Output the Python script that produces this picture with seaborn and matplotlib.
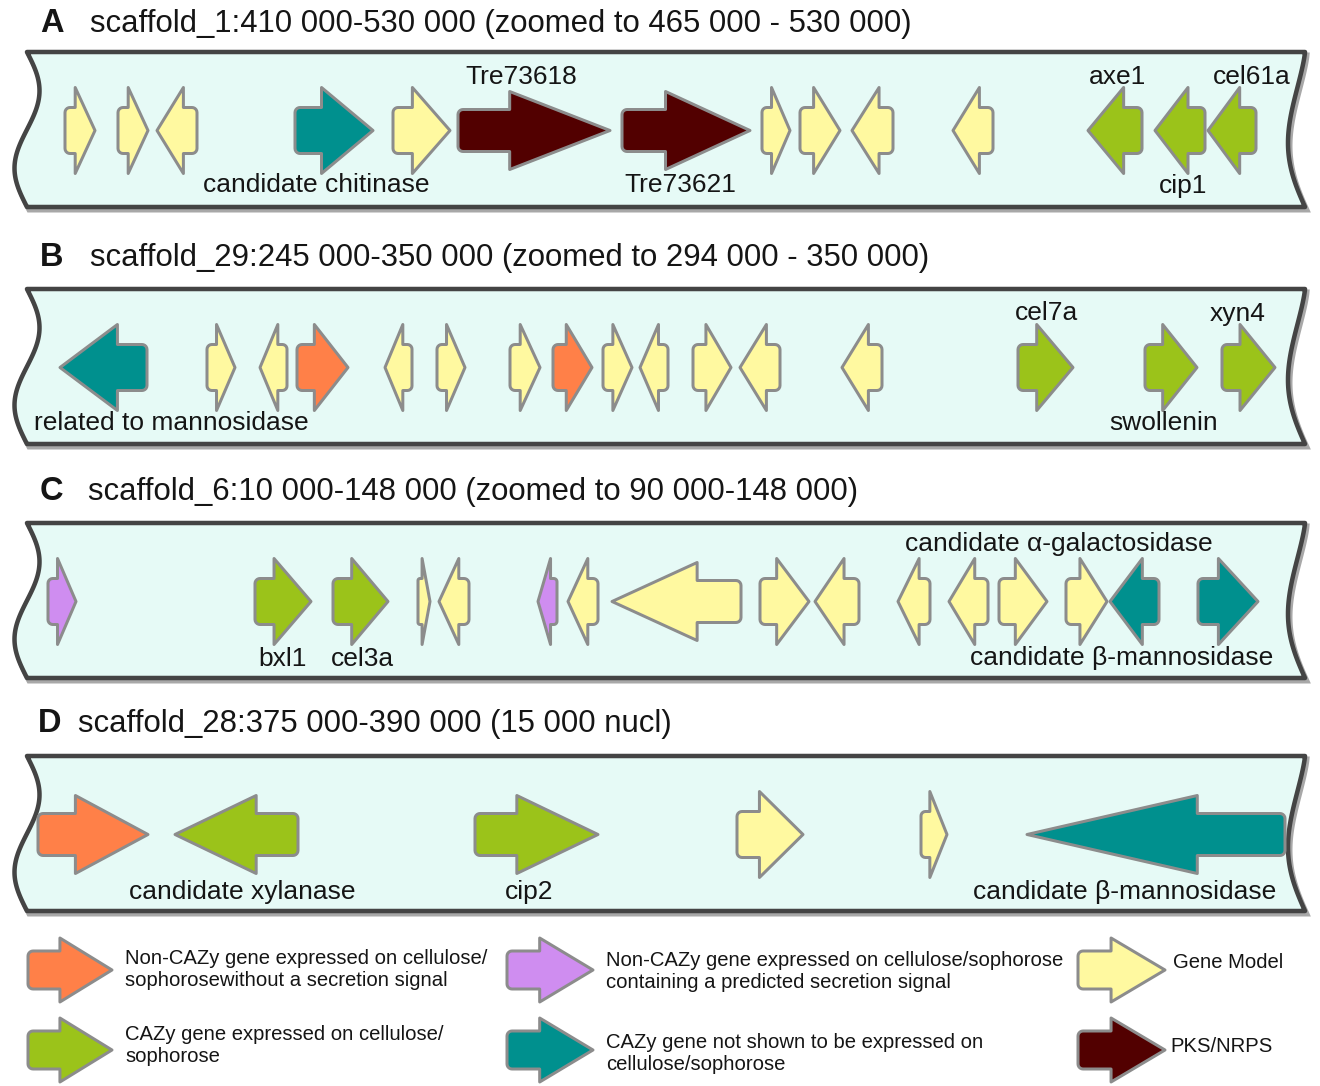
import numpy as np
import matplotlib
matplotlib.use("Agg")
import matplotlib.pyplot as plt
from matplotlib.patches import Polygon
import seaborn as sns

sns.set_theme(style="white")
plt.rcParams["font.family"] = ["Liberation Sans", "DejaVu Sans"]

# ---- gene categories and colours ----
CATEGORY_COLORS = {
    "noncazy_nosig": "#FF8048",
    "noncazy_sig": "#CF8DF0",
    "model": "#FFF9A0",
    "cazy_expr": "#9BC31A",
    "cazy_notexpr": "#00908E",
    "pks": "#520000",
}

# ---- panel A: scaffold_1 ----
a_start = [65, 118, 157, 295, 393, 458, 622, 762, 800, 852, 953, 1088, 1155, 1208]
a_end = [95, 148, 197, 373, 450, 610, 750, 790, 840, 893, 993, 1142, 1205, 1256]
a_strand = [1, 1, -1, 1, 1, 1, 1, 1, 1, -1, -1, -1, -1, -1]
a_cat = ["model", "model", "model", "cazy_notexpr", "model", "pks", "pks",
         "model", "model", "model", "model", "cazy_expr", "cazy_expr", "cazy_expr"]

# ---- panel B: scaffold_29 ----
b_start = [60, 207, 260, 297, 385, 437, 510, 553, 603, 640, 693, 740, 842, 1018, 1145, 1222]
b_end = [147, 235, 287, 348, 412, 465, 540, 592, 632, 668, 731, 780, 882, 1073, 1197, 1275]
b_strand = [-1, 1, -1, 1, -1, 1, 1, 1, 1, -1, 1, -1, -1, 1, 1, 1]
b_cat = ["cazy_notexpr", "model", "model", "noncazy_nosig", "model", "model", "model",
         "noncazy_nosig", "model", "model", "model", "model", "model",
         "cazy_expr", "cazy_expr", "cazy_expr"]

# ---- panel C: scaffold_6 ----
c_start = [48, 255, 333, 418, 439, 538, 568, 612, 760, 815, 898, 949, 999, 1066, 1110, 1198]
c_end = [76, 311, 388, 430, 469, 557, 598, 741, 809, 859, 930, 988, 1047, 1107, 1159, 1258]
c_strand = [1, 1, 1, 1, -1, -1, -1, -1, 1, -1, -1, -1, 1, 1, -1, 1]
c_cat = ["noncazy_sig", "cazy_expr", "cazy_expr", "model", "model", "noncazy_sig", "model",
         "model", "model", "model", "model", "model", "model", "model",
         "cazy_notexpr", "cazy_notexpr"]

# ---- panel D: scaffold_28 ----
d_start = [38, 175, 475, 737, 921, 1027]
d_end = [148, 298, 598, 803, 947, 1285]
d_strand = [1, -1, 1, 1, 1, -1]
d_cat = ["noncazy_nosig", "cazy_expr", "cazy_expr", "model", "model", "cazy_notexpr"]

# ---- panel titles ----
panel_letters = ["A", "B", "C", "D"]
panel_titles = [
    "scaffold_1:410 000-530 000 (zoomed to 465 000 - 530 000)",
    "scaffold_29:245 000-350 000 (zoomed to 294 000 - 350 000)",
    "scaffold_6:10 000-148 000 (zoomed to 90 000-148 000)",
    "scaffold_28:375 000-390 000 (15 000 nucl)",
]

# ---- gene name labels: (text, x centre, side) ----
a_labels = [("candidate chitinase", 316, "below"), ("Tre73618", 521, "above"),
            ("Tre73621", 680, "below"), ("axe1", 1117, "above"),
            ("cip1", 1183, "below"), ("cel61a", 1252, "above")]
b_labels = [("related to mannosidase", 171, "below"), ("cel7a", 1046, "above"),
            ("swollenin", 1164, "below"), ("xyn4", 1238, "above")]
c_labels = [("bxl1", 283, "below"), ("cel3a", 362, "below"),
            ("candidate \u03b1-galactosidase", 1059, "above"),
            ("candidate \u03b2-mannosidase", 1122, "below")]
d_labels = [("candidate xylanase", 242, "below"), ("cip2", 529, "below"),
            ("candidate \u03b2-mannosidase", 1125, "below")]

# ---- legend ----
legend_cats = ["noncazy_nosig", "noncazy_sig", "model", "cazy_expr", "cazy_notexpr", "pks"]
legend_texts = [
    "Non-CAZy gene expressed on cellulose/\nsophorosewithout a secretion signal",
    "Non-CAZy gene expressed on cellulose/sophorose\ncontaining a predicted secretion signal",
    "Gene Model",
    "CAZy gene expressed on cellulose/\nsophorose",
    "CAZy gene not shown to be expressed on\ncellulose/sophorose",
    "PKS/NRPS",
]

# ---------------------------------------------------------------
W, H = 1320, 1086
fig = plt.figure(figsize=(W / 100, H / 100), dpi=100)
ax = fig.add_axes([0, 0, 1, 1])
ax.set_xlim(0, W)
ax.set_ylim(H, 0)
ax.axis("off")

PX = 0.72  # points per pixel at 100 dpi
TEXT = "#151515"


def gene_arrow(ax, start, end, strand, yc, color, head_half=43, body_half=23,
               head_frac=0.66, radius=5, edge="#8C8C8C", lw=3.0, z=3):
    length = end - start
    head = length * head_frac
    r = min(radius, body_half * 0.5, (length - head) * 0.5)
    x0, x1 = 0.0, length
    xn = length - head
    pts = []
    # rounded tail corners
    for a in np.linspace(np.pi, 1.5 * np.pi, 6):
        pts.append((x0 + r + r * np.cos(a), yc - body_half + r + r * np.sin(a)))
    pts += [(xn, yc - body_half), (xn, yc - head_half), (x1, yc),
            (xn, yc + head_half), (xn, yc + body_half)]
    for a in np.linspace(0.5 * np.pi, np.pi, 6):
        pts.append((x0 + r + r * np.cos(a), yc + body_half - r + r * np.sin(a)))
    pts = np.array(pts)
    if strand > 0:
        pts[:, 0] = start + pts[:, 0]
    else:
        pts[:, 0] = end - pts[:, 0]
    ax.add_patch(Polygon(pts, closed=True, facecolor=color, edgecolor=edge,
                         linewidth=lw * PX, joinstyle="round", zorder=z))


def track_band(ax, top, bottom, left=27, right=1305):
    t = np.linspace(0, 1, 80)
    y = top + (bottom - top) * t
    xl = left + 12.5 * np.sin(2 * np.pi * t)
    xr = right - 17 * np.sin(np.pi * t ** 1.3)
    xs = np.concatenate([[xl[0]], xr, xl[::-1]])
    ys = np.concatenate([[top], y, y[::-1]])
    shadow = Polygon(np.column_stack([xs + 2, ys + 3]), closed=True, facecolor="none",
                     edgecolor="#A8A8A8", linewidth=5 * PX, zorder=1)
    band = Polygon(np.column_stack([xs, ys]), closed=True, facecolor="#E6FAF6",
                   edgecolor="#444444", linewidth=4.5 * PX, joinstyle="round", zorder=2)
    ax.add_patch(shadow)
    ax.add_patch(band)


panels = [
    (a_start, a_end, a_strand, a_cat, a_labels),
    (b_start, b_end, b_strand, b_cat, b_labels),
    (c_start, c_end, c_strand, c_cat, c_labels),
    (d_start, d_end, d_strand, d_cat, d_labels),
]
band_tops = [52, 289, 523, 756]
band_height = 155
title_y = [23, 257, 491, 723]
letter_x = [40, 40, 40, 38]
title_x = [90, 90, 88, 78]

for i, (st, en, sd, ct, labs) in enumerate(panels):
    top = band_tops[i]
    bottom = top + band_height
    yc = (top + bottom) / 2 + 1
    track_band(ax, top, bottom)
    ax.text(letter_x[i], title_y[i], panel_letters[i], fontsize=23.5, fontweight="bold",
            color=TEXT, ha="left", va="center")
    ax.text(title_x[i], title_y[i] + 1, panel_titles[i], fontsize=22.4, color=TEXT,
            ha="left", va="center")
    for s, e, d, c in zip(st, en, sd, ct):
        big = (e - s) > 100
        gene_arrow(ax, s, e, d, yc, CATEGORY_COLORS[c],
                   head_half=39 if big else 43, body_half=21 if big else 23)
    for txt, x, side in labs:
        ly = yc - 54 if side == "above" else yc + 55
        if i == 2:
            ly = yc - 57 if side == "above" else yc + 57
        if i == 3:
            ly = yc + 58
        ax.text(x, ly, txt, fontsize=19, color=TEXT, ha="center", va="center", zorder=5)

# legend
leg_arrow_x = [(28, 112), (507, 593), (1078, 1165)]
leg_text_x = [125, 606, 1173]
leg_row_y = [970, 1050]
leg_text_y = [[970, 972, 962], [1046, 1054, 1047]]
for k, (cat, txt) in enumerate(zip(legend_cats, legend_texts)):
    row, col = divmod(k, 3)
    xa, xb = leg_arrow_x[col]
    gene_arrow(ax, xa, xb, 1, leg_row_y[row], CATEGORY_COLORS[cat],
               head_half=32, body_half=19, head_frac=0.62, radius=5)
    tx = leg_text_x[col] - (3 if k == 5 else 0)
    ax.text(tx, leg_text_y[row][col], txt, fontsize=14.6, color=TEXT,
            ha="left", va="center", linespacing=1.2)

fig.savefig("out.png", dpi=100, facecolor="white")
